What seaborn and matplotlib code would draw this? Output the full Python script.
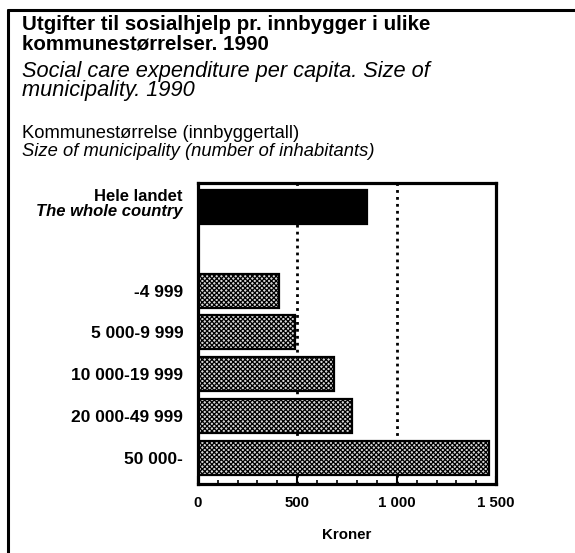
import matplotlib
matplotlib.use("Agg")
import matplotlib.pyplot as plt
import seaborn as sns
import pandas as pd
from matplotlib.ticker import MultipleLocator, FixedLocator
from matplotlib.lines import Line2D

# ---- data ----
categories = ["Hele landet", "-4 999", "5 000-9 999", "10 000-19 999", "20 000-49 999", "50 000-"]
values = [850, 410, 490, 685, 775, 1465]
x_ticks = [0, 500, 1000, 1500]
x_tick_labels = ["0", "500", "1 000", "1 500"]

sns.set_theme(style="white")
plt.rcParams['font.family'] = ['Liberation Sans', 'DejaVu Sans']
plt.rcParams['text.color'] = 'black'
plt.rcParams['xtick.color'] = 'black'
plt.rcParams['ytick.color'] = 'black'
plt.rcParams['axes.labelcolor'] = 'black'
plt.rcParams['hatch.linewidth'] = 0.9
plt.rcParams['hatch.color'] = 'black'

df = pd.DataFrame({"cat": categories, "val": values})
order = [categories[0], " "] + categories[1:]

fig = plt.figure(figsize=(5.75, 5.53), dpi=100)
ax = fig.add_axes([0.344, 0.125, 0.519, 0.544])

sns.barplot(data=df, y="cat", x="val", order=order, orient="h", ax=ax,
            width=0.81, color="white", saturation=1, edgecolor="black", linewidth=1.6)

bars = [p for p in ax.patches if p.get_width() == p.get_width() and p.get_width() > 0]
for i, p in enumerate(bars):
    if i == 0:
        p.set_facecolor("black")
        p.set_edgecolor("black")
    else:
        p.set_facecolor("#d8d8d8")
        p.set_hatch("xxxxxxx")

ax.set_xlim(0, 1500)
ax.set_ylim(6.62, -0.57)
ax.xaxis.set_major_locator(FixedLocator(x_ticks))
ax.set_xticklabels(x_tick_labels, fontsize=10.8, fontweight="bold")
ax.xaxis.set_minor_locator(MultipleLocator(100))
ax.tick_params(axis="x", which="major", direction="in", length=6, width=1.5, pad=9, bottom=True)
ax.tick_params(axis="x", which="minor", direction="in", length=3, width=1.2, bottom=True)
for xv in [500, 1000]:
    ax.axvline(xv, color="black", linestyle=(0, (1, 1.5)), linewidth=2.0, zorder=0)
ax.set_xlabel("Kroner", fontsize=10.8, fontweight="bold", labelpad=13)
ax.set_ylabel("")

labels = ["", ""] + categories[1:]
ax.set_yticks(range(len(order)))
ax.set_yticklabels(labels, fontsize=12.5, fontweight="bold")
ax.tick_params(axis="y", length=0, pad=10.5)
ax.text(-0.05, 0.955, "Hele landet", transform=ax.transAxes, ha="right", va="center",
        fontsize=12, fontweight="bold")
ax.text(-0.05, 0.905, "The whole country", transform=ax.transAxes, ha="right", va="center",
        fontsize=12, fontweight="bold", style="italic")

for s in ax.spines.values():
    s.set_visible(True)
    s.set_linewidth(2.3)
    s.set_color("black")

# titles
fig.text(22/575, 1 - 15.5/553, "Utgifter til sosialhjelp pr. innbygger i ulike\nkommunestørrelser. 1990",
         ha="left", va="top", fontsize=14.8, fontweight="bold", linespacing=1.0)
fig.text(22/575, 1 - 61/553, "Social care expenditure per capita. Size of\nmunicipality. 1990",
         ha="left", va="top", fontsize=15.7, style="italic", linespacing=0.9)
fig.text(22/575, 1 - 125/553, "Kommunestørrelse (innbyggertall)",
         ha="left", va="top", fontsize=13.2)
fig.text(22/575, 1 - 143.5/553, "Size of municipality (number of inhabitants)",
         ha="left", va="top", fontsize=13.2, style="italic")

# frame
fig.add_artist(Line2D([8/575, 8/575], [0, 1 - 10/553], transform=fig.transFigure, color="black", linewidth=2.2))
fig.add_artist(Line2D([8/575, 1], [1 - 10/553, 1 - 10/553], transform=fig.transFigure, color="black", linewidth=2.2))

fig.savefig("out.png", dpi=100)
